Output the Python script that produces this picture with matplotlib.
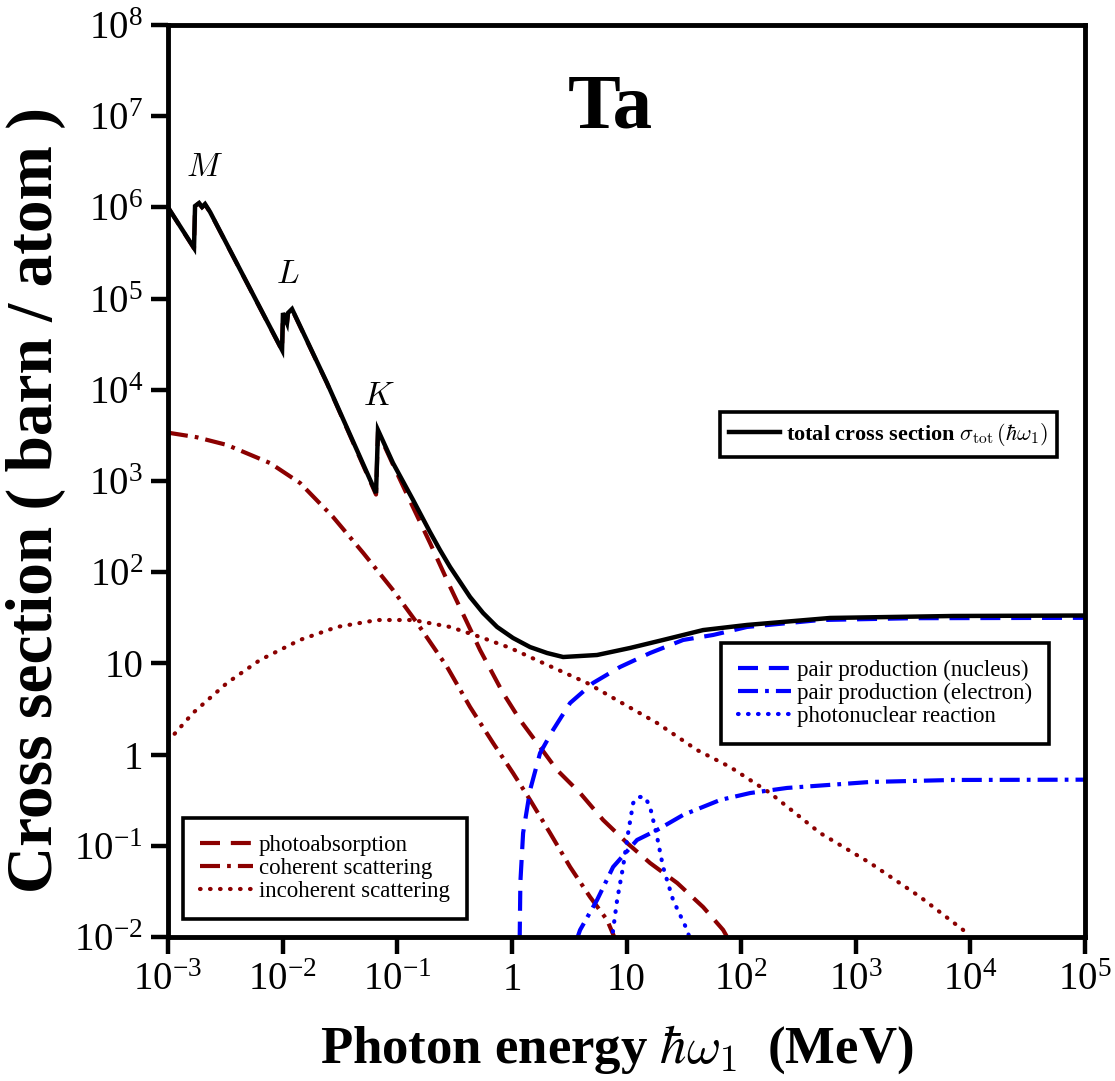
import matplotlib
matplotlib.use("Agg")
import matplotlib.pyplot as plt
from matplotlib.ticker import FixedLocator, FixedFormatter, NullLocator

plt.rcParams['font.family'] = ['Liberation Serif', 'DejaVu Serif']
plt.rcParams['mathtext.fontset'] = 'cm'

# ---------------- data (MeV, barn/atom) ----------------
total_E = [1.0e-3, 1.686e-3, 1.722e-3, 1.866e-3, 1.982e-3, 2.104e-3, 2.328e-3, 4.786e-3,
           9.886e-3, 1.007e-2, 1.091e-2, 1.114e-2, 1.208e-2, 2.438e-2, 6.53e-2, 6.79e-2,
           9.18e-2, 0.1374, 0.1932, 0.236, 0.289, 0.353, 0.4315, 0.561, 0.743, 1.023,
           1.442, 2.028, 2.80, 5.53, 10.74, 20.84, 46.6, 112.7, 598.0, 7079.0, 1.0e5]
total_s = [1.0e6, 3.59e5, 1.035e6, 1.117e6, 1.009e6, 1.089e6, 8.91e5, 1.567e5,
           2.73e4, 6.95e4, 5.40e4, 6.95e4, 7.69e4, 1.19e4, 738.0, 3622.0,
           1574.0, 619.0, 275.0, 175.0, 114.0, 78.2, 53.5, 35.7, 25.1, 19.0,
           15.1, 13.0, 11.75, 12.36, 14.76, 18.07, 23.2, 26.4, 31.5, 33.1, 33.5]

photo_E = [1.0e-3, 1.686e-3, 1.722e-3, 1.866e-3, 1.982e-3, 2.104e-3, 2.328e-3, 4.786e-3,
           9.886e-3, 1.007e-2, 1.091e-2, 1.114e-2, 1.208e-2, 2.438e-2, 6.53e-2, 6.79e-2,
           9.18e-2, 0.1294, 0.1932, 0.289, 0.4315, 0.528, 0.8375, 1.180, 1.660, 2.477,
           3.936, 6.25, 10.12, 16.07, 27.7, 46.6, 69.7, 79.4]
photo_s = [1.0e6, 3.55e5, 1.03e6, 1.11e6, 1.0e6, 1.08e6, 8.85e5, 1.56e5,
           2.70e4, 6.9e4, 5.35e4, 6.9e4, 7.6e4, 1.18e4, 710.0, 3467.0,
           1514.0, 603.0, 209.0, 69.2, 24.0, 14.0, 4.73, 2.39, 1.34, 0.678,
           0.379, 0.192, 0.1074, 0.0647, 0.0391, 0.0213, 0.01194, 0.00891]

coh_E = [1.0e-3, 1.778e-3, 3.273e-3, 7.76e-3, 1.419e-2, 2.754e-2, 5.04e-2, 9.18e-2,
         0.149, 0.2723, 0.4315, 0.6855, 1.023, 1.442, 2.153, 3.221, 4.808, 6.776, 8.13]
coh_s = [3388.0, 3020.0, 2483.0, 1574.0, 951.0, 403.0, 163.0, 63.8,
         27.7, 9.14, 3.33, 1.34, 0.628, 0.318, 0.138, 0.0586, 0.0275, 0.01535, 0.00891]

incoh_E = [1.0e-3, 1.652e-3, 3.273e-3, 6.35e-3, 1.419e-2, 2.985e-2, 6.67e-2, 0.1374,
           0.289, 0.528, 0.964, 1.871, 4.529, 8.79, 18.49, 41.3, 80.2, 179.0, 489.0,
           1337.0, 3648.0, 8650.0, 1.0e4]
incoh_s = [1.40, 2.86, 6.10, 10.9, 18.1, 25.1, 29.9, 29.9,
           25.1, 19.5, 14.8, 10.1, 6.10, 3.78, 2.22, 1.122, 0.731, 0.379, 0.138,
           0.0647, 0.0275, 0.01194, 0.00891]

pairn_E = [1.169, 1.186, 1.253, 1.442, 1.762, 2.286, 3.221, 5.105, 8.79, 16.07,
           31.2, 57.0, 112.7, 489.0, 3162.0, 1.0e5]
pairn_s = [0.0089, 0.0398, 0.138, 0.409, 1.04, 1.86, 3.68, 6.10, 9.14, 13.0,
           18.07, 20.5, 25.1, 29.9, 31.3, 31.6]

paire_E = [3.63, 3.936, 5.53, 7.64, 12.36, 18.49, 31.2, 65.6, 120.0, 252.0,
           1337.0, 7079.0, 1.0e5]
paire_s = [0.0089, 0.01194, 0.0254, 0.0586, 0.1159, 0.149, 0.218, 0.318, 0.379, 0.431,
           0.501, 0.527, 0.531]

phnuc_E = [7.41, 7.64, 8.28, 9.33, 10.33, 11.43, 12.62, 14.52, 16.07, 18.49, 20.84,
           25.5, 33.8, 36.3]
phnuc_s = [0.0089, 0.01194, 0.0254, 0.0586, 0.138, 0.294, 0.343, 0.343, 0.266, 0.125,
           0.0586, 0.0254, 0.01194, 0.0089]

x_ticks = [1e-3, 1e-2, 1e-1, 1, 10, 1e2, 1e3, 1e4, 1e5]
x_labels = [r'$\mathdefault{10^{-3}}$', r'$\mathdefault{10^{-2}}$', r'$\mathdefault{10^{-1}}$',
            '1', '10', r'$\mathdefault{10^{2}}$', r'$\mathdefault{10^{3}}$',
            r'$\mathdefault{10^{4}}$', r'$\mathdefault{10^{5}}$']
y_ticks = [1e-2, 1e-1, 1, 10, 1e2, 1e3, 1e4, 1e5, 1e6, 1e7, 1e8]
y_labels = [r'$\mathdefault{10^{-2}}$', r'$\mathdefault{10^{-1}}$', '1', '10',
            r'$\mathdefault{10^{2}}$', r'$\mathdefault{10^{3}}$', r'$\mathdefault{10^{4}}$',
            r'$\mathdefault{10^{5}}$', r'$\mathdefault{10^{6}}$', r'$\mathdefault{10^{7}}$',
            r'$\mathdefault{10^{8}}$']

lab_photo = 'photoabsorption'
lab_coh = 'coherent scattering'
lab_incoh = 'incoherent scattering'
lab_pairn = 'pair production (nucleus)'
lab_paire = 'pair production (electron)'
lab_phnuc = 'photonuclear reaction'
lab_total = r'total cross section $\sigma_{\rm tot}\,(\hbar\omega_1)$'

# ---------------- styles ----------------
RED = '#8b0000'
BLUE = '#0000ff'
LW = 3.0
DASH = (4.8, 2.6)
DASHDOT = (4.8, 1.7, 0.9, 1.7)
DOT = (0.15, 2.25)

fig = plt.figure(figsize=(11.15, 10.81), dpi=100)
ax = fig.add_axes([168 / 1115, 1 - 937 / 1081, 917 / 1115, 912 / 1081])
ax.set_xscale('log')
ax.set_yscale('log')


def style(color, dashes, cap='butt', lw=LW):
    return dict(color=color, lw=lw, dashes=dashes, dash_capstyle=cap)


l_incoh, = ax.plot(incoh_E, incoh_s, **style(RED, DOT, 'round'), label=lab_incoh)
l_coh, = ax.plot(coh_E, coh_s, **style(RED, DASHDOT), label=lab_coh)
l_photo, = ax.plot(photo_E, photo_s, **style(RED, DASH), label=lab_photo)
l_phnuc, = ax.plot(phnuc_E, phnuc_s, **style(BLUE, DOT, 'round'), label=lab_phnuc)
l_paire, = ax.plot(paire_E, paire_s, **style(BLUE, DASHDOT), label=lab_paire)
l_pairn, = ax.plot(pairn_E, pairn_s, **style(BLUE, DASH), label=lab_pairn)
l_total, = ax.plot(total_E, total_s, color='black', lw=3.2, solid_joinstyle='miter',
                   label=lab_total)

ax.set_xlim(1e-3, 1e5)
ax.set_ylim(1e-2, 1e8)

ax.xaxis.set_major_locator(FixedLocator(x_ticks))
ax.xaxis.set_major_formatter(FixedFormatter(x_labels))
ax.yaxis.set_major_locator(FixedLocator(y_ticks))
ax.yaxis.set_major_formatter(FixedFormatter(y_labels))
ax.xaxis.set_minor_locator(NullLocator())
ax.yaxis.set_minor_locator(NullLocator())
ax.tick_params(which='major', direction='out', length=12, width=3.2,
               labelsize=28, pad=6, color='black')
for sp in ax.spines.values():
    sp.set_linewidth(3.5)

# edge labels
ax.text(2.1e-3, 2.7e6, r'$M$', fontsize=24, ha='center', va='center')
ax.text(1.114e-2, 1.82e5, r'$L$', fontsize=24, ha='center', va='center')
ax.text(6.93e-2, 8.3e3, r'$K$', fontsize=24, ha='center', va='center')

ax.text((610 - 168) / 917, (937 - 127) / 912, 'Ta', transform=ax.transAxes,
        fontsize=57, fontweight='bold', ha='center', va='baseline')

# legends
common = dict(frameon=True, fancybox=False, framealpha=1, edgecolor='black',
              fontsize=16.5, handlelength=2.3, handletextpad=0.25, borderpad=0.75,
              labelspacing=0.08, borderaxespad=0)
leg1 = ax.legend(handles=[l_photo, l_coh, l_incoh], loc='upper left',
                 bbox_to_anchor=((183 - 168) / 917, (937 - 818) / 912), **common)
leg1.get_frame().set_linewidth(2.6)
ax.add_artist(leg1)
leg2 = ax.legend(handles=[l_pairn, l_paire, l_phnuc], loc='upper left',
                 bbox_to_anchor=((721 - 168) / 917, (937 - 643) / 912), **common)
leg2.get_frame().set_linewidth(2.6)
ax.add_artist(leg2)
common3 = dict(common)
common3['borderpad'] = 0.4
common3['fontsize'] = 16
leg3 = ax.legend(handles=[l_total], loc='upper left',
                 bbox_to_anchor=((720 - 168) / 917, (937 - 412) / 912), **common3)
leg3.get_frame().set_linewidth(2.6)
for t in leg3.get_texts():
    t.set_fontweight('bold')

fig.text(617 / 1115, 1 - 1050 / 1081, r'Photon energy $\hbar\omega_1$  (MeV)',
         fontsize=38, fontweight='bold', ha='center', va='center')
fig.text(36 / 1115, 1 - 500 / 1081, 'Cross section ( barn / atom )',
         fontsize=47, fontweight='bold', ha='center', va='center', rotation=90)

fig.savefig('out.png', dpi=100)
